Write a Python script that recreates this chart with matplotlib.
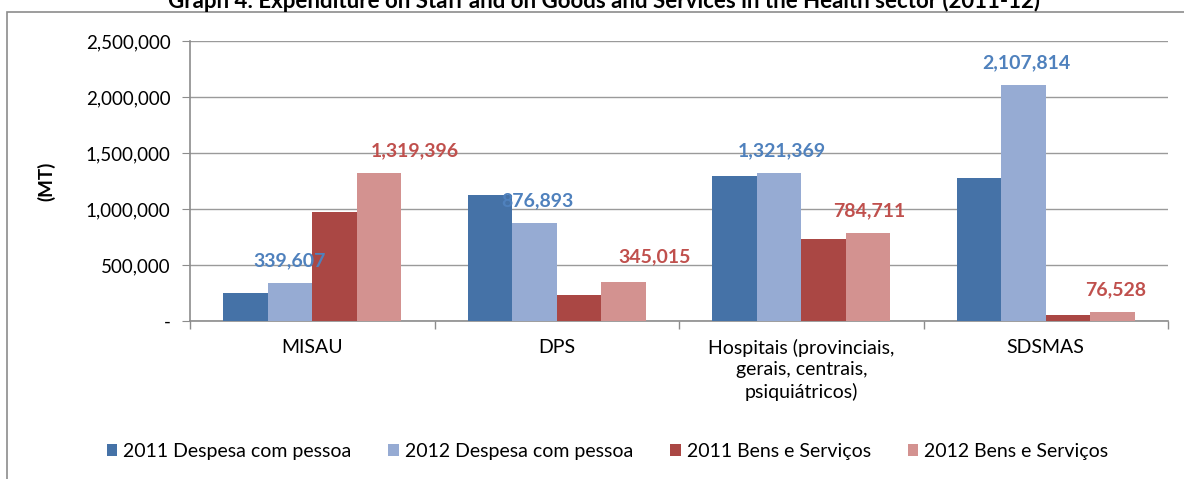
import numpy as np
import matplotlib.pyplot as plt
from matplotlib.patches import Rectangle
from matplotlib.ticker import FuncFormatter

categories = ['MISAU', 'DPS', 'Hospitais (provinciais,\ngerais, centrais,\npsiquiátricos)', 'SDSMAS']
series = ['2011 Despesa com pessoa', '2012 Despesa com pessoa',
          '2011 Bens e Serviços', '2012 Bens e Serviços']
staff_2011 = [253000, 1125000, 1297000, 1274000]
staff_2012 = [339607, 876893, 1321369, 2107814]
goods_2011 = [976000, 232000, 732000, 52000]
goods_2012 = [1319396, 345015, 784711, 76528]

colors = ['#4572A7', '#96ABD3', '#AA4744', '#D39290']
label_colors = {1: '#4F81BD', 3: '#C0504D'}
# manual nudges (points) of the value labels, as placed in the original
label_dx = {1: [0, 2, 2, 2], 3: [26, 22, 1, 2]}
label_dy = {1: [10, 10, 10, 10], 3: [10, 12, 10, 10]}

plt.rcParams['font.family'] = ['Lato', 'DejaVu Sans']

fig = plt.figure(figsize=(11.84, 4.79), dpi=100)
ax = fig.add_axes([190 / 1184, 1 - 321 / 479, 978 / 1184, 280 / 479])

# chart border (cut off at right / bottom like the source)
fig.patches.append(Rectangle((7 / 1184, -0.1), 1.2, 1 - 12 / 479 + 0.1,
                             transform=fig.transFigure, fill=False,
                             edgecolor='#8C8C8C', linewidth=1.2))
fig.text(604 / 1184, 1 - 8 / 479,
         'Graph 4: Expenditure on Staff and on Goods and Services in the Health sector (2011-12)',
         ha='center', va='baseline', fontsize=16, weight='bold')

x = np.arange(len(categories))
w = 0.182
data = [staff_2011, staff_2012, goods_2011, goods_2012]
for i, vals in enumerate(data):
    pos = x + (i - 1.5) * w
    ax.bar(pos, vals, width=w, color=colors[i], label=series[i], zorder=3)
    if i in label_colors:
        for k, (p, v) in enumerate(zip(pos, vals)):
            ax.annotate(f'{v:,}', xy=(p, v),
                        xytext=(label_dx[i][k], label_dy[i][k]),
                        textcoords='offset points', ha='center', va='bottom',
                        color=label_colors[i], fontsize=14, weight='bold',
                        zorder=4)

ax.set_xlim(-0.5, len(categories) - 0.5)
ax.set_ylim(0, 2500000)
ax.set_yticks(np.arange(0, 2500001, 500000))
ax.yaxis.set_major_formatter(FuncFormatter(lambda v, _: '-' if v == 0 else f'{int(v):,}'))
ax.grid(axis='y', color='#9A9A9A', linewidth=1, zorder=0)
ax.set_xticks(x)
ax.set_xticklabels(categories, fontsize=14, linespacing=1.3)
ax.set_xticks(np.arange(-0.5, len(categories)), minor=True)
ax.tick_params(axis='x', which='major', length=0, pad=13)
ax.tick_params(axis='x', which='minor', length=6, color='#8C8C8C', width=1)
ax.tick_params(axis='y', length=6, color='#8C8C8C', labelsize=13.5, pad=8)
for s in ['top', 'right']:
    ax.spines[s].set_visible(False)
for s in ['left', 'bottom']:
    ax.spines[s].set_color('#8C8C8C')
    ax.spines[s].set_linewidth(1.2)

ax.set_ylabel('(MT)', fontsize=13.5, weight='bold')
ax.yaxis.set_label_coords(-0.138, 0.5)

ax.legend(loc='center', bbox_to_anchor=(0.427, -0.465), ncol=4, frameon=False,
          fontsize=14, handlelength=0.55, handleheight=0.55, handletextpad=0.3,
          columnspacing=1.9)

fig.savefig('out.png', dpi=100)
